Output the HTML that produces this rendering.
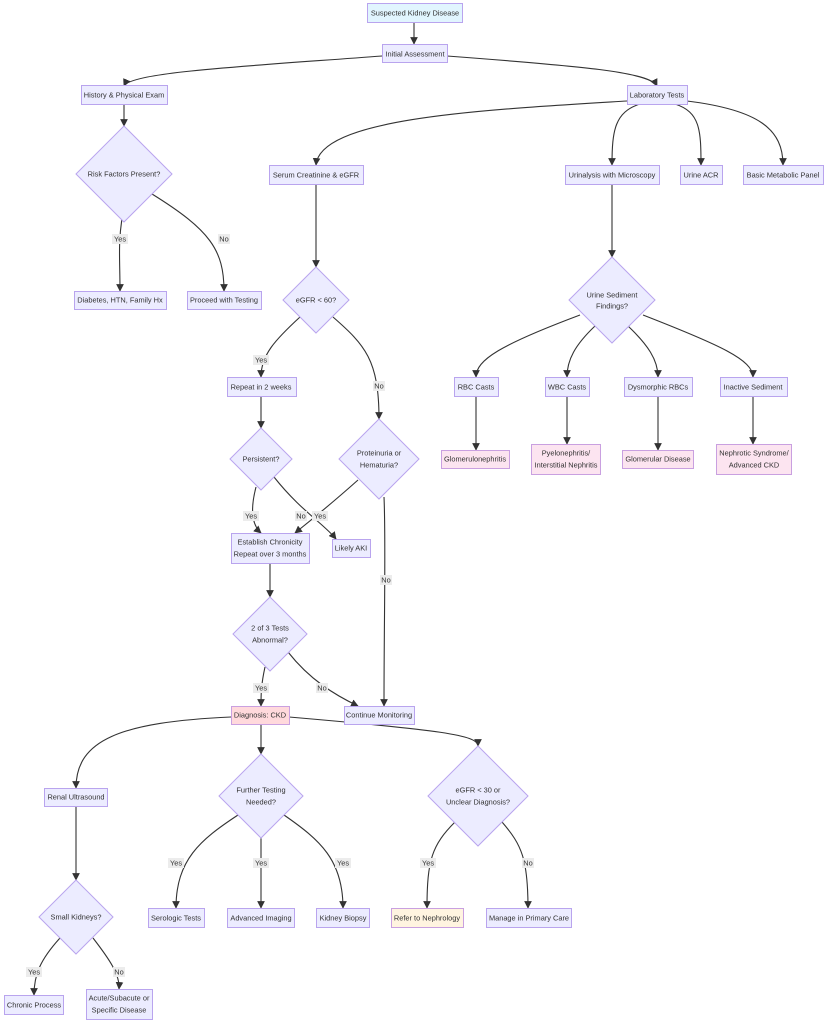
<!DOCTYPE html>
<html><head><meta charset="utf-8"><style>
html,body{margin:0;padding:0;background:#fff;}
svg{display:block;font-family:"Liberation Sans",sans-serif;font-size:7.4px;}
.n{fill:#ECECFF;stroke:#B9A4EE;stroke-width:1;}
.p{fill:#FCE4F0;stroke:#C9A0E0;stroke-width:1;}
.r{fill:#FFD9DC;stroke:#C9A0E0;stroke-width:1;}
.o{fill:#FFF4E0;stroke:#C9A0E0;stroke-width:1;}
.b{fill:#E1F5FE;stroke:#B9A4EE;stroke-width:1;}
.e{fill:none;stroke:#333;stroke-width:1.1;marker-end:url(#a);}
text{fill:#333;text-anchor:middle;dominant-baseline:central;}
.lb{fill:#ececec;}
</style></head><body>
<svg width="826" height="1024" viewBox="0 0 826 1024" xmlns="http://www.w3.org/2000/svg">
<defs><marker id="a" viewBox="0 0 10 10" refX="9" refY="5" markerWidth="7" markerHeight="7" orient="auto"><path d="M0,0L10,5L0,10z" fill="#333"/></marker></defs>

<path class="e" d="M414,22V44"/>
<path class="e" d="M382,56C250,66 130,72 124,86"/>
<path class="e" d="M447,56C580,66 650,72 657,86"/>
<path class="e" d="M124,104V126"/>
<path class="e" d="M627,101C480,110 320,118 316,165"/>
<path class="e" d="M640,104C615,112 612,130 612,165"/>
<path class="e" d="M675,104C700,112 701,130 701,165"/>
<path class="e" d="M687,101C760,110 783,130 783,165"/>
<path class="e" d="M122,218C118,245 120,260 120,291"/>
<path class="e" d="M152,194C210,230 224,250 224,291"/>
<path class="e" d="M316,184V267"/>
<path class="e" d="M612,184V257"/>
<path class="e" d="M300,317C275,340 261,355 261,377"/>
<path class="e" d="M333,317C365,345 379,360 379,419"/>
<path class="e" d="M580,315C500,345 476,360 476,377"/>
<path class="e" d="M595,326C575,345 567,360 567,377"/>
<path class="e" d="M628,326C648,345 658,360 658,377"/>
<path class="e" d="M643,315C720,345 753,360 753,377"/>
<path class="e" d="M261,396V428"/>
<path class="e" d="M476,396V450"/>
<path class="e" d="M567,396V444"/>
<path class="e" d="M658,396V450"/>
<path class="e" d="M753,396V444"/>
<path class="e" d="M256,487C250,510 252,525 261,533"/>
<path class="e" d="M274,477C300,510 325,525 336,539"/>
<path class="e" d="M358,480C330,505 305,525 295,533"/>
<path class="e" d="M384,497C386,540 384,620 384,706"/>
<path class="e" d="M270,563V597"/>
<path class="e" d="M265,667C261,685 261,695 261,706"/>
<path class="e" d="M288,652C310,680 335,695 358,706"/>
<path class="e" d="M231,717C120,722 76,740 76,788"/>
<path class="e" d="M261,724V754"/>
<path class="e" d="M289,717C440,730 478,735 478,746"/>
<path class="e" d="M76,806V880"/>
<path class="e" d="M238,815C200,840 176,860 176,908"/>
<path class="e" d="M261,838V908"/>
<path class="e" d="M284,815C320,840 343,860 343,908"/>
<path class="e" d="M455,822C432,845 427,860 427,908"/>
<path class="e" d="M502,822C522,845 528,860 528,908"/>
<path class="e" d="M60,938C40,960 34,975 34,995"/>
<path class="e" d="M93,938C110,960 120,975 119,989"/>

<g>
<rect class="lb" x="112" y="234" width="16" height="10"/><text x="120" y="239">Yes</text>
<rect class="lb" x="218" y="234" width="12" height="10"/><text x="224" y="239">No</text>
<rect class="lb" x="253" y="355" width="16" height="10"/><text x="261" y="360">Yes</text>
<rect class="lb" x="373" y="381" width="12" height="10"/><text x="379" y="386">No</text>
<rect class="lb" x="243" y="511" width="16" height="10"/><text x="251" y="516">Yes</text>
<rect class="lb" x="295" y="511" width="12" height="10"/><text x="301" y="516">No</text>
<rect class="lb" x="312" y="511" width="16" height="10"/><text x="320" y="516">Yes</text>
<rect class="lb" x="380" y="575" width="12" height="10"/><text x="386" y="580">No</text>
<rect class="lb" x="253" y="683" width="16" height="10"/><text x="261" y="688">Yes</text>
<rect class="lb" x="316" y="683" width="12" height="10"/><text x="322" y="688">No</text>
<rect class="lb" x="168" y="858" width="16" height="10"/><text x="176" y="863">Yes</text>
<rect class="lb" x="253" y="858" width="16" height="10"/><text x="261" y="863">Yes</text>
<rect class="lb" x="335" y="858" width="16" height="10"/><text x="343" y="863">Yes</text>
<rect class="lb" x="420" y="858" width="16" height="10"/><text x="428" y="863">Yes</text>
<rect class="lb" x="522" y="858" width="12" height="10"/><text x="528" y="863">No</text>
<rect class="lb" x="26" y="967" width="16" height="10"/><text x="34" y="972">Yes</text>
<rect class="lb" x="113" y="967" width="12" height="10"/><text x="119" y="972">No</text>
</g>

<rect class="b" x="367.5" y="3.5" width="95" height="19"/><text x="415" y="13">Suspected Kidney Disease</text>
<rect class="n" x="382.5" y="44.5" width="65" height="18"/><text x="415" y="54">Initial Assessment</text>
<rect class="n" x="81.5" y="85.5" width="86" height="19"/><text x="124" y="95">History &amp; Physical Exam</text>
<rect class="n" x="627.5" y="85.5" width="60" height="19"/><text x="657" y="95">Laboratory Tests</text>
<polygon class="n" points="124,126 172,174 124,222 76,174"/><text x="124" y="174">Risk Factors Present?</text>
<rect class="n" x="269.5" y="165.5" width="94" height="19"/><text x="316" y="175">Serum Creatinine &amp; eGFR</text>
<rect class="n" x="565.5" y="165.5" width="94" height="19"/><text x="612" y="175">Urinalysis with Microscopy</text>
<rect class="n" x="680.5" y="165.5" width="42" height="19"/><text x="701" y="175">Urine ACR</text>
<rect class="n" x="743.5" y="165.5" width="80" height="19"/><text x="783" y="175">Basic Metabolic Panel</text>
<rect class="n" x="74.5" y="291.5" width="92" height="18"/><text x="120" y="300">Diabetes, HTN, Family Hx</text>
<rect class="n" x="187.5" y="291.5" width="74" height="18"/><text x="224" y="300">Proceed with Testing</text>
<polygon class="n" points="316,267 349,300 316,333 283,300"/><text x="316" y="300">eGFR &lt; 60?</text>
<polygon class="n" points="612,257 655,300 612,343 569,300"/><text x="612" y="295">Urine Sediment</text><text x="612" y="306">Findings?</text>
<rect class="n" x="227.5" y="377.5" width="69" height="19"/><text x="261" y="387">Repeat in 2 weeks</text>
<rect class="n" x="454.5" y="377.5" width="44" height="19"/><text x="476" y="387">RBC Casts</text>
<rect class="n" x="545.5" y="377.5" width="44" height="19"/><text x="567" y="387">WBC Casts</text>
<rect class="n" x="624.5" y="377.5" width="68" height="19"/><text x="658" y="387">Dysmorphic RBCs</text>
<rect class="n" x="720.5" y="377.5" width="67" height="19"/><text x="753" y="387">Inactive Sediment</text>
<polygon class="n" points="261,428 292,459 261,490 230,459"/><text x="261" y="459">Persistent?</text>
<polygon class="n" points="379,419 419,459 379,499 339,459"/><text x="379" y="453">Proteinuria or</text><text x="379" y="465">Hematuria?</text>
<rect class="p" x="441.5" y="450.5" width="68" height="18"/><text x="475" y="459">Glomerulonephritis</text>
<rect class="p" x="531.5" y="444.5" width="69" height="30"/><text x="566" y="453">Pyelonephritis/</text><text x="566" y="465">Interstitial Nephritis</text>
<rect class="p" x="622.5" y="450.5" width="71" height="18"/><text x="658" y="459">Glomerular Disease</text>
<rect class="p" x="716.5" y="444.5" width="75" height="30"/><text x="754" y="453">Nephrotic Syndrome/</text><text x="754" y="465">Advanced CKD</text>
<rect class="n" x="231.5" y="533.5" width="78" height="30"/><text x="270" y="542">Establish Chronicity</text><text x="270" y="554">Repeat over 3 months</text>
<rect class="n" x="332.5" y="539.5" width="38" height="18"/><text x="351" y="548">Likely AKI</text>
<polygon class="n" points="270,597 307,634 270,671 233,634"/><text x="270" y="628">2 of 3 Tests</text><text x="270" y="640">Abnormal?</text>
<rect class="r" x="231.5" y="706.5" width="58" height="18"/><text x="260" y="715">Diagnosis: CKD</text>
<rect class="n" x="344.5" y="706.5" width="70" height="18"/><text x="379" y="715">Continue Monitoring</text>
<rect class="n" x="44.5" y="788.5" width="63" height="18"/><text x="76" y="797">Renal Ultrasound</text>
<polygon class="n" points="261,754 303,796 261,838 219,796"/><text x="261" y="790">Further Testing</text><text x="261" y="802">Needed?</text>
<polygon class="n" points="478,746 528,796 478,846 428,796"/><text x="478" y="790">eGFR &lt; 30 or</text><text x="478" y="802">Unclear Diagnosis?</text>
<polygon class="n" points="76,880 113,917 76,954 39,917"/><text x="76" y="917">Small Kidneys?</text>
<rect class="n" x="148.5" y="908.5" width="56" height="19"/><text x="176" y="918">Serologic Tests</text>
<rect class="n" x="227.5" y="908.5" width="67" height="19"/><text x="261" y="918">Advanced Imaging</text>
<rect class="n" x="316.5" y="908.5" width="53" height="19"/><text x="343" y="918">Kidney Biopsy</text>
<rect class="o" x="391.5" y="908.5" width="72" height="19"/><text x="427" y="918">Refer to Nephrology</text>
<rect class="n" x="486.5" y="908.5" width="85" height="19"/><text x="529" y="918">Manage in Primary Care</text>
<rect class="n" x="4.5" y="995.5" width="59" height="19"/><text x="34" y="1005">Chronic Process</text>
<rect class="n" x="86.5" y="989.5" width="66" height="30"/><text x="119" y="998">Acute/Subacute or</text><text x="119" y="1010">Specific Disease</text>
</svg>
</body></html>
